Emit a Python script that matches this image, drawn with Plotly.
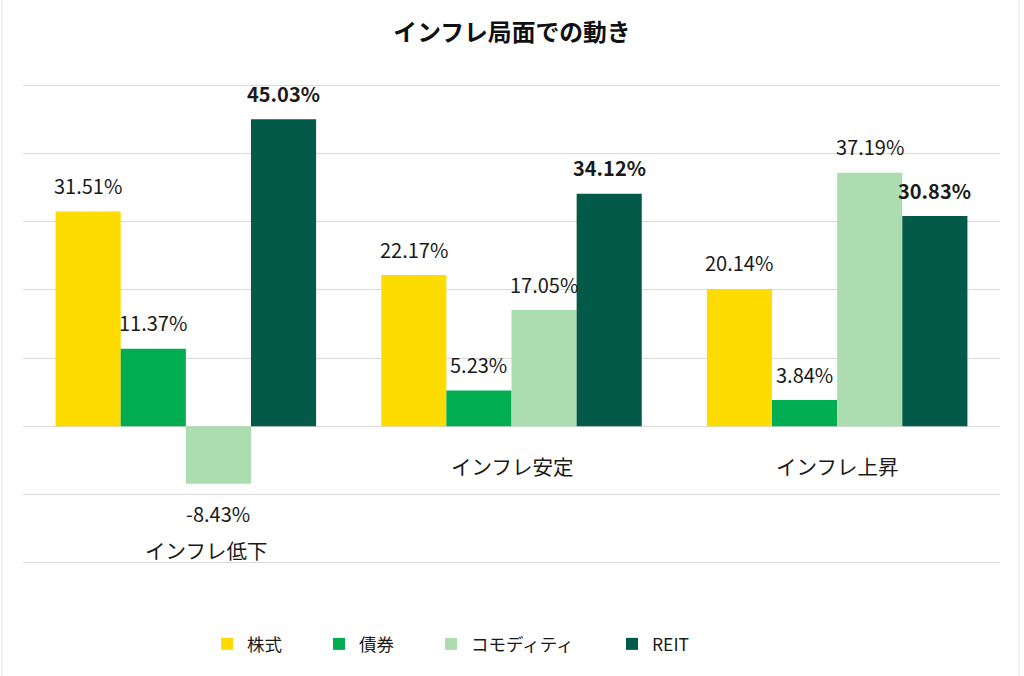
import plotly.graph_objects as go
import numpy as np

categories = ["インフレ低下", "インフレ安定", "インフレ上昇"]
series_names = ["株式", "債券", "コモディティ", "REIT"]
stocks = [31.51, 22.17, 20.14]
bonds = [11.37, 5.23, 3.84]
commodities = [-8.43, 17.05, 37.19]
reit = [45.03, 34.12, 30.83]
series_values = [stocks, bonds, commodities, reit]
colors = ["#FFDC00", "#00AD50", "#ABDDB1", "#035A48"]
bold_series = [False, False, False, True]

FONT = "Noto Sans CJK JP"
W, H = 1024, 676
ML, MR, MT, MB = 23, 24, 84, 112

xpos = np.arange(len(categories))
n = len(series_names)
bw = 0.8 / n

fig = go.Figure()
legend_text_px = [246, 358, 470, 651]
plot_w = W - ML - MR
plot_h = H - MT - MB

for j, (name, vals, col) in enumerate(zip(series_names, series_values, colors)):
    off = (j - (n - 1) / 2) * bw
    lg = "legend" if j == 0 else f"legend{j+1}"
    fig.add_trace(go.Bar(
        x=xpos + off, y=vals, width=bw, name=name,
        marker=dict(color=col, line=dict(width=0)),
        legend=lg, hoverinfo="skip",
    ))
    for xi, v in zip(xpos, vals):
        txt = f"{v:.2f}%"
        if bold_series[j]:
            txt = f"<b>{txt}</b>"
        fig.add_annotation(
            x=xi + off, y=v, text=txt, showarrow=False,
            yshift=26 if v >= 0 else -30, yanchor="middle",
            font=dict(family=FONT, size=20, color="#1a1a1a"),
        )

for xi, cat in zip(xpos, categories):
    mn = min(0, min(s[xi] for s in series_values))
    fig.add_annotation(
        x=xi, y=mn, text=cat, showarrow=False,
        yshift=-40 if mn >= 0 else -66, yanchor="middle",
        xshift=0 if mn >= 0 else 20,
        font=dict(family=FONT, size=20.5, color="#1a1a1a"),
    )

legend_layouts = {}
for j, tx in enumerate(legend_text_px):
    key = "legend" if j == 0 else f"legend{j+1}"
    legend_layouts[key] = dict(
        x=(tx - 39 - ML) / plot_w, xanchor="left",
        y=(H - MB - 645 + 1) / plot_h, yanchor="middle",
        orientation="h", bgcolor="rgba(0,0,0,0)",
        font=dict(family=FONT, size=17.5, color="#1a1a1a"),
    )

# faint frame lines
for px in [2, 1019]:
    fig.add_shape(type="line", xref="paper", yref="paper",
                  x0=(px - ML) / plot_w, x1=(px - ML) / plot_w,
                  y0=-MB / plot_h, y1=(H - MB) / plot_h,
                  line=dict(color="#e3e3e3", width=1))

fig.update_layout(
    width=W, height=H,
    margin=dict(l=ML, r=MR, t=MT, b=MB),
    paper_bgcolor="white", plot_bgcolor="white",
    title=dict(text="<b>インフレ局面での動き</b>", x=0.5, xref="container",
               y=1 - 33 / H, yref="container", yanchor="middle", xanchor="center",
               font=dict(family=FONT, size=23.8, color="#111111")),
    xaxis=dict(range=[-0.5, len(categories) - 0.5], showticklabels=False,
               showgrid=False, zeroline=False, showline=False, ticks=""),
    yaxis=dict(range=[-20.2, 50.2], tickvals=list(range(-20, 51, 10)),
               showticklabels=False, ticks="",
               showgrid=True, gridcolor="#d9d9d9", gridwidth=1,
               zeroline=True, zerolinecolor="#d9d9d9", zerolinewidth=1,
               showline=False),
    showlegend=True,
    font=dict(family=FONT),
    **legend_layouts,
)

fig.write_html("out.html")
